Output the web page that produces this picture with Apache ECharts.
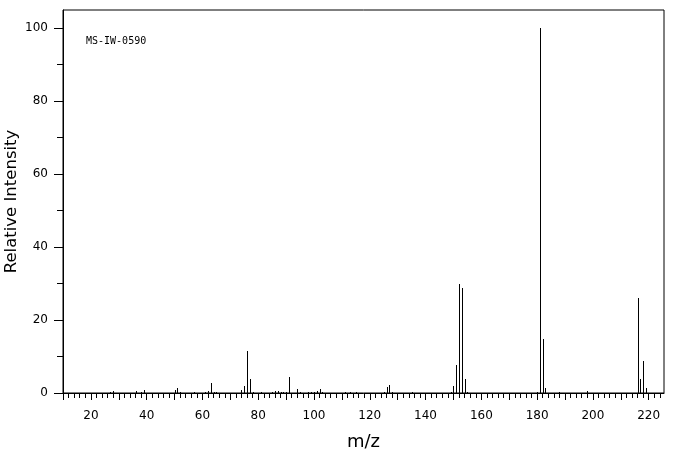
<!DOCTYPE html>
<html>
<head>
<meta charset="utf-8">
<script src="https://cdn.jsdelivr.net/npm/echarts@6/dist/echarts.min.js"></script>
<style>
html,body{margin:0;padding:0;background:#fff;}
#chart{width:676px;height:455px;}
</style>
</head>
<body>
<div id="chart"></div>
<script>
// m/z values of the peaks
var mzValues = [27, 28, 36, 38, 39, 50, 51, 52, 57, 61, 62, 63, 64, 65,
  74, 75, 76, 77, 78, 81, 85, 86, 87, 88, 89, 90, 91, 94, 95, 98, 99, 100,
  101, 102, 103, 111, 113, 115, 125, 126, 127, 128, 135, 149, 150, 151, 152,
  153, 154, 155, 180, 181, 182, 183, 188, 198, 216, 217, 218, 219];
// relative intensities of the peaks
var intensities = [0.3, 0.5, 0.5, 0.4, 0.7, 0.9, 1.5, 0.4, 0.3, 0.4, 0.5, 2.8, 0.4, 0.3,
  0.8, 1.8, 11.5, 3.8, 0.4, 0.3, 0.3, 0.5, 0.5, 0.4, 0.3, 0.3, 4.4, 1.0, 0.4, 0.3, 0.3, 0.3,
  0.5, 1.0, 0.3, 0.3, 0.3, 0.3, 0.3, 1.6, 2.3, 0.3, 0.3, 0.4, 2.0, 7.8, 29.9,
  28.9, 3.9, 0.4, 0.4, 100, 14.7, 1.5, 0.3, 0.5, 26.0, 3.8, 8.8, 1.3];
// tick labels
var xLabelValues = [20, 40, 60, 80, 100, 120, 140, 160, 180, 200, 220];
var xMajorTicks = [10, 20, 30, 40, 50, 60, 70, 80, 90, 100, 110, 120, 130, 140, 150, 160, 170, 180, 190, 200, 210, 220];
var xMinorTicks = [12, 14, 16, 18, 22, 24, 26, 28, 32, 34, 36, 38, 42, 44, 46, 48, 52, 54, 56, 58,
  62, 64, 66, 68, 72, 74, 76, 78, 82, 84, 86, 88, 92, 94, 96, 98, 102, 104, 106, 108,
  112, 114, 116, 118, 122, 124, 126, 128, 132, 134, 136, 138, 142, 144, 146, 148,
  152, 154, 156, 158, 162, 164, 166, 168, 172, 174, 176, 178, 182, 184, 186, 188,
  192, 194, 196, 198, 202, 204, 206, 208, 212, 214, 216, 218, 222, 224];
var yLabelValues = [0, 20, 40, 60, 80, 100];
var yMinorTicks = [10, 30, 50, 70, 90];
var specCode = 'MS-IW-0590';

var peaks = [];
for (var i = 0; i < mzValues.length; i++) peaks.push([mzValues[i], intensities[i]]);

var chart = echarts.init(document.getElementById('chart'), null, {renderer: 'canvas'});
var font = 'DejaVu Sans';
var xBase = {
  type: 'value', min: 10, max: 225.5, gridIndex: 0, position: 'bottom',
  splitLine: {show: false}
};
var yBase = {
  type: 'value', min: 0, max: 105, gridIndex: 0, position: 'left',
  splitLine: {show: false}
};
chart.setOption({
  animation: false,
  backgroundColor: '#fff',
  grid: {left: 63, right: 12, top: 10, bottom: 62, containLabel: false, outerBoundsMode: 'none',
    show: true, borderColor: '#000', borderWidth: 1, backgroundColor: 'transparent'},
  graphic: [{
    type: 'text', left: 86, top: 36,
    style: {text: specCode, font: '10px "DejaVu Sans Mono"', fill: '#000'}
  }],
  xAxis: [
    Object.assign({}, xBase, {
      name: 'm/z', nameLocation: 'middle', nameGap: 40,
      nameTextStyle: {fontFamily: font, fontSize: 18, color: '#000'},
      axisLine: {show: true, lineStyle: {color: '#000', width: 1}},
      axisTick: {show: true, length: 7, customValues: xMajorTicks, lineStyle: {color: '#000', width: 1}},
      axisLabel: {show: true, customValues: xLabelValues, margin: 17, fontFamily: font, fontSize: 12, color: '#000'}
    }),
    Object.assign({}, xBase, {
      axisLine: {show: false},
      axisTick: {show: true, length: 5, customValues: xMinorTicks, lineStyle: {color: '#000', width: 1}},
      axisLabel: {show: false}
    })
  ],
  yAxis: [
    Object.assign({}, yBase, {
      name: 'Relative Intensity', nameLocation: 'middle', nameGap: 43, nameMoveOverlap: false,
      nameTextStyle: {fontFamily: font, fontSize: 16.5, color: '#000'},
      axisLine: {show: true, lineStyle: {color: '#000', width: 1}},
      axisTick: {show: true, length: 9, customValues: yLabelValues, lineStyle: {color: '#000', width: 1}},
      axisLabel: {show: true, customValues: yLabelValues, margin: 15, fontFamily: font, fontSize: 12, color: '#000'}
    }),
    Object.assign({}, yBase, {
      axisLine: {show: false},
      axisTick: {show: true, length: 6, customValues: yMinorTicks, lineStyle: {color: '#000', width: 1}},
      axisLabel: {show: false}
    })
  ],
  series: [{
    type: 'custom',
    xAxisIndex: 0, yAxisIndex: 0,
    data: peaks,
    clip: true,
    renderItem: function (params, api) {
      var p0 = api.coord([api.value(0), 0]);
      var p1 = api.coord([api.value(0), api.value(1)]);
      var x = Math.round(p0[0]) + 0.5;
      return {
        type: 'line',
        shape: {x1: x, y1: Math.round(p0[1]), x2: x, y2: Math.round(p1[1])},
        style: {stroke: '#000', lineWidth: 1}
      };
    }
  }]
});
</script>
</body>
</html>
